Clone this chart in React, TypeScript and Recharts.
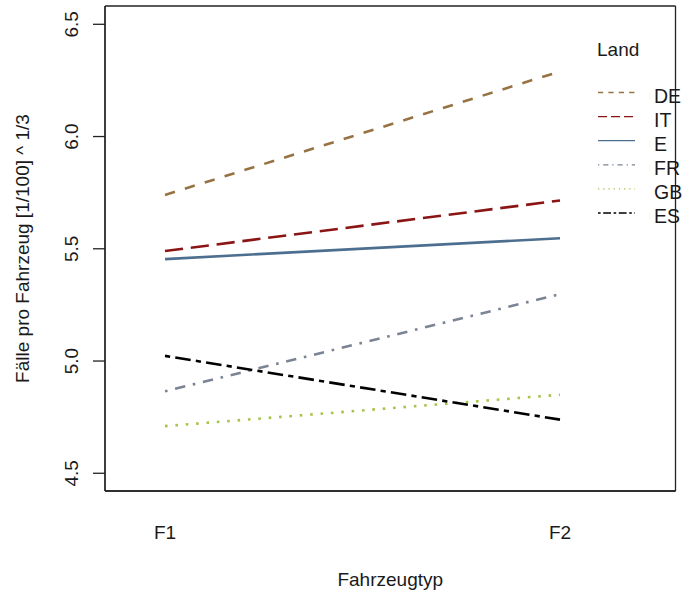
import React from 'react';
import { LineChart, Line, XAxis, YAxis, Legend, CartesianGrid } from 'recharts';

// Vehicle types on the x axis
const categories = ['F1', 'F2'];

// Mean cases per vehicle, cube-root transformed, per country
const deValues = [5.74, 6.29];
const itValues = [5.49, 5.715];
const eValues = [5.454, 5.547];
const frValues = [4.865, 5.298];
const gbValues = [4.71, 4.85];
const esValues = [5.023, 4.739];

const yTicks = [4.5, 5.0, 5.5, 6.0, 6.5];

const FONT = '"Liberation Sans", Arial, sans-serif';
const INK = '#1a1a1a';

type Series = {
  key: string;
  values: number[];
  color: string;
  dash: string;
  legendDash: string;
};

// Listed in legend order (sorted by the F2 value)
const series: Series[] = [
  { key: 'DE', values: deValues, color: '#977243', dash: '10.4 10.4', legendDash: '5.2 5.2' },
  { key: 'IT', values: itValues, color: '#8b1414', dash: '18.2 7.8', legendDash: '9.1 3.9' },
  { key: 'E', values: eValues, color: '#4d6f8f', dash: '', legendDash: '' },
  { key: 'FR', values: frValues, color: '#7a8494', dash: '2.6 7.8 10.4 7.8', legendDash: '1.3 3.9 5.2 3.9' },
  { key: 'GB', values: gbValues, color: '#a6c34c', dash: '2.6 7.8', legendDash: '1.3 3.9' },
  { key: 'ES', values: esValues, color: '#000000', dash: '5.2 5.2 15.6 5.2', legendDash: '2.6 2.6 7.8 2.6' },
];

const data = categories.map((typ, i) => {
  const row: Record<string, string | number> = { typ };
  series.forEach((s) => {
    row[s.key] = s.values[i];
  });
  return row;
});

const YTick = (props: any) => {
  const { x, y, payload } = props;
  const tx = x - 14.7;
  return (
    <text
      x={tx}
      y={y}
      transform={`rotate(-90 ${tx} ${y})`}
      textAnchor="middle"
      fontFamily={FONT}
      fontSize={19}
      fill={INK}
    >
      {Number(payload.value).toFixed(1)}
    </text>
  );
};

const XTick = (props: any) => {
  const { x, y, payload } = props;
  return (
    <text x={x} y={y + 48} textAnchor="middle" fontFamily={FONT} fontSize={19} fill={INK}>
      {payload.value}
    </text>
  );
};

const YTitle = (props: any) => {
  const vb = props.viewBox || {};
  const tx = (vb.x ?? 0) + 29;
  const ty = (vb.y ?? 0) + (vb.height ?? 0) / 2;
  return (
    <text
      x={tx}
      y={ty}
      transform={`rotate(-90 ${tx} ${ty})`}
      textAnchor="middle"
      fontFamily={FONT}
      fontSize={19}
      fill={INK}
    >
      Fälle pro Fahrzeug [1/100] ^ 1/3
    </text>
  );
};

const XTitle = (props: any) => {
  const vb = props.viewBox || {};
  const tx = (vb.x ?? 0) + (vb.width ?? 0) / 2;
  const ty = (vb.y ?? 0) + 94.5;
  return (
    <text x={tx} y={ty} textAnchor="middle" fontFamily={FONT} fontSize={19} fill={INK}>
      Fahrzeugtyp
    </text>
  );
};

const LegendBox = () => {
  const rowTop = 92.5;
  const rowGap = 24.1;
  return (
    <svg width={683} height={240} style={{ overflow: 'visible', display: 'block' }}>
      <text x={597} y={56} fontFamily={FONT} fontSize={19} fill={INK}>
        Land
      </text>
      {series.map((s, i) => {
        const ly = rowTop + i * rowGap;
        return (
          <g key={s.key}>
            <line
              x1={598}
              x2={635}
              y1={ly}
              y2={ly}
              stroke={s.color}
              strokeWidth={1.3}
              strokeDasharray={s.legendDash || undefined}
            />
            <text x={654} y={ly + 10} fontFamily={FONT} fontSize={19.5} fill={INK}>
              {s.key}
            </text>
          </g>
        );
      })}
    </svg>
  );
};

// Plot frame: grid lines only on the four edges of the plotting region
const frameRows = (p: any) => [p.offset.top, p.offset.top + p.offset.height];
const frameCols = (p: any) => [p.offset.left, p.offset.left + p.offset.width];

export default function App() {
  const frame = { stroke: '#222222', strokeWidth: 1.3 };
  return (
    <div style={{ position: 'absolute', left: 0, top: 0, background: '#ffffff' }}>
      <LineChart
        width={683}
        height={594}
        data={data}
        margin={{ top: 6, right: 7.5, bottom: 0, left: 0 }}
      >
        <CartesianGrid
          stroke="#222222"
          strokeWidth={1.3}
          strokeDasharray=""
          fill="none"
          horizontalCoordinatesGenerator={frameRows}
          verticalCoordinatesGenerator={frameCols}
        />
        <XAxis
          dataKey="typ"
          type="category"
          padding={{ left: 60, right: 115.5 }}
          height={103}
          axisLine={frame}
          tickLine={false}
          tickSize={0}
          tickMargin={0}
          tick={<XTick />}
          interval={0}
          label={<XTitle />}
        />
        <YAxis
          type="number"
          domain={[4.421, 6.5815]}
          allowDataOverflow
          ticks={yTicks}
          width={105}
          axisLine={frame}
          tickLine={frame}
          tickSize={12}
          tickMargin={0}
          tick={<YTick />}
          interval={0}
          label={<YTitle />}
        />
        <Legend
          layout="vertical"
          align="center"
          verticalAlign="middle"
          content={<LegendBox />}
          wrapperStyle={{ left: 0, top: 0, width: 683, height: 240, pointerEvents: 'none' }}
        />
        {series.map((s) => (
          <Line
            key={s.key}
            dataKey={s.key}
            name={s.key}
            type="linear"
            stroke={s.color}
            strokeWidth={2.6}
            strokeDasharray={s.dash || undefined}
            dot={false}
            activeDot={false}
            isAnimationActive={false}
          />
        ))}
      </LineChart>
    </div>
  );
}
